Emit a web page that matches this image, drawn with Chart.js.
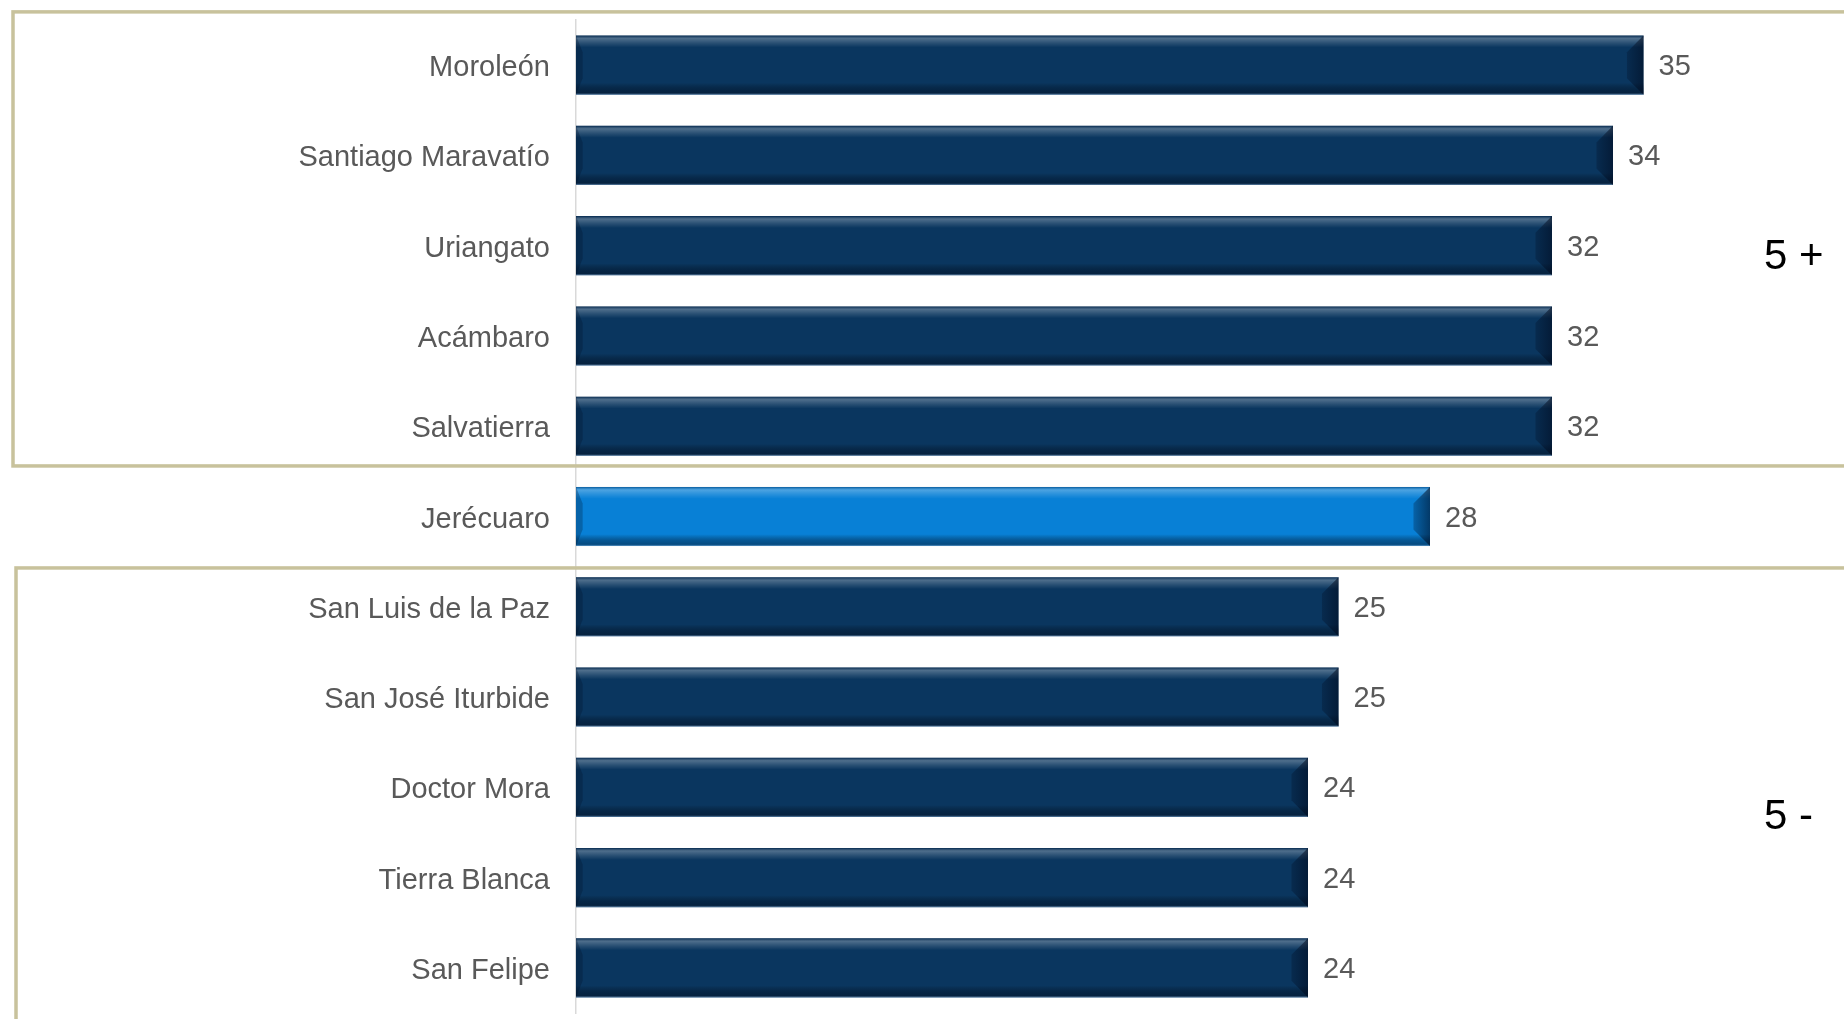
<!DOCTYPE html>
<html>
<head>
<meta charset="utf-8">
<script src="https://cdn.jsdelivr.net/npm/chart.js@4.4.0/dist/chart.umd.min.js"></script>
<style>
  html, body { margin: 0; padding: 0; background: #ffffff; }
  #grafica { display: block; }
</style>
</head>
<body>
<canvas id="grafica" width="1844" height="1019"></canvas>
<script>
// municipios y valores
var municipios = ["Moroleón", "Santiago Maravatío", "Uriangato", "Acámbaro", "Salvatierra",
  "Jerécuaro", "San Luis de la Paz", "San José Iturbide", "Doctor Mora", "Tierra Blanca", "San Felipe"];
var valores = [35, 34, 32, 32, 32, 28, 25, 25, 24, 24, 24];
var destacado = "Jerécuaro";

// grupos marcados con recuadro
var grupos = [
  { texto: "5 +", desde: 0, hasta: 4 },
  { texto: "5 -", desde: 6, hasta: 10 }
];

var azulOscuro = "#0a365f";
var azulClaro = "#0880d6";
var colorMarco = "#c8c29c";

var colores = municipios.map(function (m) {
  return m == destacado ? azulClaro : azulOscuro;
});

// relieve de las barras (bisel arriba, abajo y en el extremo)
var relieve = {
  id: "relieve",
  afterDatasetsDraw: function (chart) {
    var ctx = chart.ctx;
    var meta = chart.getDatasetMeta(0);
    meta.data.forEach(function (bar, i) {
      var p = bar.getProps(["x", "y", "base", "height"], true);
      var top = p.y - p.height / 2, bot = p.y + p.height / 2;
      var left = p.base, right = p.x, h = p.height;
      ctx.save();
      var g = ctx.createLinearGradient(0, top, 0, bot);
      g.addColorStop(0, "rgba(0,20,50,0.35)");
      g.addColorStop(0.05, "rgba(255,255,255,0.28)");
      g.addColorStop(0.13, "rgba(255,255,255,0.12)");
      g.addColorStop(0.2, "rgba(255,255,255,0)");
      g.addColorStop(0.8, "rgba(0,0,0,0)");
      g.addColorStop(0.9, "rgba(0,10,25,0.35)");
      g.addColorStop(0.97, "rgba(0,10,25,0.45)");
      g.addColorStop(1, "rgba(140,175,210,0.7)");
      ctx.fillStyle = g;
      ctx.fillRect(left, top, right - left, h);
      var d = h * 0.28;
      // extremo derecho
      var g2 = ctx.createLinearGradient(right - d, 0, right, 0);
      g2.addColorStop(0, "rgba(0,10,30,0.25)");
      g2.addColorStop(1, "rgba(0,10,30,0.6)");
      ctx.fillStyle = g2;
      ctx.beginPath();
      ctx.moveTo(right - d, top + d);
      ctx.lineTo(right, top);
      ctx.lineTo(right, bot);
      ctx.lineTo(right - d, bot - d);
      ctx.closePath();
      ctx.fill();
      // extremo izquierdo
      ctx.fillStyle = "rgba(0,10,30,0.25)";
      ctx.beginPath();
      ctx.moveTo(left, top);
      ctx.lineTo(left + d * 0.4, top + d);
      ctx.lineTo(left + d * 0.4, bot - d);
      ctx.lineTo(left, bot);
      ctx.closePath();
      ctx.fill();
      // etiqueta de valor
      ctx.fillStyle = "#595959";
      ctx.font = "29px 'Liberation Sans', Arial, sans-serif";
      ctx.textAlign = "left";
      ctx.textBaseline = "middle";
      ctx.fillText(valores[i], right + 15, p.y + 2);
      ctx.restore();
    });
  }
};

// recuadros de los grupos y sus textos
var marcos = {
  id: "marcos",
  afterDraw: function (chart) {
    var ctx = chart.ctx;
    var y = chart.scales.y;
    var paso = y.getPixelForValue(1) - y.getPixelForValue(0);
    ctx.save();
    ctx.strokeStyle = colorMarco;
    ctx.lineWidth = 3.5;
    grupos.forEach(function (gr, k) {
      var arriba = y.getPixelForValue(gr.desde) - paso * (k == 0 ? 0.59 : 0.43);
      var abajo = y.getPixelForValue(gr.hasta) + paso * (k == 0 ? 0.44 : 1.5);
      var izq = k == 0 ? 13 : 16;
      ctx.strokeRect(izq, arriba, chart.width + 20 - izq, abajo - arriba);
      ctx.fillStyle = "#000000";
      ctx.font = "42px 'Liberation Sans', Arial, sans-serif";
      ctx.textAlign = "left";
      ctx.textBaseline = "middle";
      var medio = (y.getPixelForValue(gr.desde) + y.getPixelForValue(gr.hasta)) / 2;
      ctx.fillText(gr.texto, 1764, medio + (k == 0 ? 12 : 30));
    });
    ctx.restore();
  }
};

var ctx = document.getElementById("grafica").getContext("2d");

var grafica = new Chart(ctx, {
  type: "bar",
  data: {
    labels: municipios,
    datasets: [{
      data: valores,
      backgroundColor: colores,
      borderWidth: 0,
      barPercentage: 0.655,
      categoryPercentage: 1
    }]
  },
  options: {
    indexAxis: "y",
    responsive: false,
    animation: false,
    layout: { padding: { top: 20, bottom: 6, right: 48, left: 0 } },
    plugins: {
      legend: { display: false },
      tooltip: { enabled: false }
    },
    scales: {
      x: {
        display: false,
        min: 0,
        max: 40
      },
      y: {
        afterFit: function (scale) {
          scale.width = 576;
          scale.paddingTop = 0;
          scale.paddingBottom = 0;
        },
        grid: { display: false, drawTicks: false },
        border: { display: true, color: "#d9d9d9", width: 1.5 },
        ticks: {
          color: "#595959",
          padding: 26,
          labelOffset: 3,
          font: { family: "'Liberation Sans', Arial, sans-serif", size: 29 }
        }
      }
    }
  },
  plugins: [relieve, marcos]
});
</script>
</body>
</html>
